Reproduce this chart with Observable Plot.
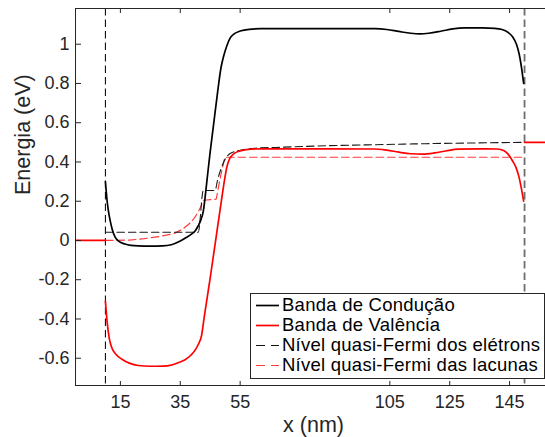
<!DOCTYPE html>
<html>
<head>
<meta charset="utf-8">
<script src="https://cdn.jsdelivr.net/npm/d3@7"></script>
<script src="https://cdn.jsdelivr.net/npm/@observablehq/plot@0.6"></script>
<style>
  body { margin: 0; background: #fff; }
  #wrap { position: relative; width: 545px; height: 437px; overflow: hidden; font-family: "Liberation Sans", Arial, sans-serif; }
  #legend { position: absolute; left: 250px; top: 293px; width: 293px; height: 80px; padding: 1px 0 3px 0; border: 1px solid #262626; background: #fff; }
  .row { display: flex; align-items: center; height: 20px; }
  .row svg { flex: none; }
  .row span { font-size: 18.5px; letter-spacing: 0.25px; color: #000; white-space: nowrap; }
</style>
</head>
<body>
<div id="wrap"></div>
<script>
// ---- data ----
const xDomain = [0, 157];
const yDomain = [-0.739, 1.182];
const xTicks = [15, 35, 55, 105, 125, 145];
const yTicks = [-0.6, -0.4, -0.2, 0, 0.2, 0.4, 0.6, 0.8, 1];
const yTickLabels = ["-0.6", "-0.4", "-0.2", "0", "0.2", "0.4", "0.6", "0.8", "1"];
const xLabel = "x (nm)";
const yLabel = "Energia (eV)";
const seriesNames = ["Banda de Condução", "Banda de Valência", "Nível quasi-Fermi dos elétrons", "Nível quasi-Fermi das lacunas"];

// contacts (x positions of device edges)
const contactX = [10, 150];
// valence band level in the contacts
const leftContactX = [0, 10];
const leftContactE = [0, 0];
const rightContactX = [150, 160];
const rightContactE = [0.5, 0.5];

// conduction band
const condX = [10, 10.5, 11, 11.6, 12.3, 13.2, 14.5, 16.5, 18.5, 21, 25, 29, 32, 35, 37, 38.5, 40, 41, 42, 42.7, 43.8, 44.9, 46.2, 47.5, 48.6, 49.5, 50.5, 51.6, 53, 55, 58, 62, 100, 104, 108, 112, 115, 118, 122, 126, 130, 136, 140, 142.5, 144.5, 146, 147.3, 148.2, 149, 149.7];
const condE = [0.30, 0.21, 0.15, 0.10, 0.055, 0.018, -0.005, -0.018, -0.025, -0.028, -0.029, -0.028, -0.022, -0.003, 0.015, 0.03, 0.05, 0.075, 0.11, 0.15, 0.29, 0.44, 0.60, 0.76, 0.88, 0.94, 0.99, 1.03, 1.053, 1.067, 1.076, 1.079, 1.079, 1.075, 1.065, 1.056, 1.053, 1.056, 1.066, 1.078, 1.083, 1.083, 1.081, 1.075, 1.06, 1.038, 1.0, 0.95, 0.88, 0.80];

// valence band
const valX = [10, 10.6, 11.3, 12.1, 13.5, 15.5, 18, 21, 25, 29, 32, 34.5, 36.6, 38.5, 39.9, 41, 42.1, 43, 44, 45, 46, 47, 48, 49, 49.8, 50.5, 51.3, 52.2, 53.2, 55, 57.1, 62, 100, 104, 108, 112, 116, 120, 124, 128, 134, 141, 143, 144.5, 146, 147.2, 148.2, 149, 149.7];
const valE = [-0.31, -0.42, -0.50, -0.545, -0.58, -0.605, -0.625, -0.637, -0.641, -0.640, -0.635, -0.622, -0.608, -0.585, -0.56, -0.53, -0.485, -0.39, -0.29, -0.19, -0.085, 0.02, 0.125, 0.23, 0.31, 0.37, 0.41, 0.432, 0.445, 0.456, 0.463, 0.467, 0.466, 0.460, 0.450, 0.442, 0.440, 0.446, 0.457, 0.465, 0.467, 0.466, 0.458, 0.44, 0.405, 0.37, 0.32, 0.26, 0.20];

// electron quasi-Fermi level
const elecX = [10, 41, 42.7, 46.6, 47.5, 49.5, 51, 53, 56, 60, 67, 80, 100, 120, 150];
const elecE = [0.042, 0.042, 0.255, 0.255, 0.31, 0.40, 0.435, 0.452, 0.463, 0.47, 0.474, 0.481, 0.488, 0.494, 0.50];

// hole quasi-Fermi level
const holeX = [10, 18, 23, 28, 33, 36, 38, 39.5, 40.8, 41.8, 42.7, 47, 48.5, 49.9, 150];
const holeE = [0, 0.002, 0.009, 0.02, 0.036, 0.06, 0.085, 0.11, 0.14, 0.17, 0.205, 0.21, 0.33, 0.424, 0.424];

// ---- build ----
const pts = (xs, es) => xs.map((x, i) => ({x, E: es[i]}));
const axisColor = "#262626";
const black = "#000";
const red = "#ff0000";
const redDash = "#ff3b3b";
const dash = "7.5,4";

const plot = Plot.plot({
  width: 545,
  height: 437,
  marginLeft: 75,
  marginRight: 0,
  marginTop: 8,
  marginBottom: 52,
  x: {domain: xDomain, axis: null},
  y: {domain: yDomain, axis: null},
  style: {fontFamily: '"Liberation Sans", Arial, sans-serif', background: "#fff", overflow: "visible"},
  marks: [
    // contact boundaries (electron quasi-Fermi jumps)
    Plot.ruleX([contactX[0]], {stroke: "#111", strokeWidth: 1.1, strokeDasharray: dash}),
    Plot.ruleX([contactX[1]], {stroke: "#6e6e6e", strokeWidth: 1.8, strokeDasharray: dash}),
    // curves
    Plot.line(pts(holeX, holeE), {x: "x", y: "E", stroke: redDash, strokeWidth: 1.2, strokeDasharray: dash, clip: true}),
    Plot.line(pts(elecX, elecE), {x: "x", y: "E", stroke: "#1a1a1a", strokeWidth: 1.1, strokeDasharray: dash, curve: "monotone-x", clip: true}),
    Plot.line(pts(condX, condE), {x: "x", y: "E", stroke: black, strokeWidth: 1.7, curve: "monotone-x", clip: true}),
    Plot.line(pts(valX, valE), {x: "x", y: "E", stroke: red, strokeWidth: 1.7, curve: "monotone-x", clip: true}),
    Plot.line(pts(leftContactX, leftContactE), {x: "x", y: "E", stroke: red, strokeWidth: 1.7, clip: true}),
    Plot.line(pts(rightContactX, rightContactE), {x: "x", y: "E", stroke: red, strokeWidth: 1.7, clip: true}),
    // box lines
    Plot.ruleX([xDomain[0]], {stroke: axisColor, strokeWidth: 1}),
    Plot.ruleY([yDomain[0], yDomain[1]], {stroke: axisColor, strokeWidth: 1}),
    // inward ticks
    Plot.axisX({ticks: xTicks, anchor: "top", frameAnchor: "bottom", tickSize: 5, tickFormat: () => "", label: null, stroke: axisColor}),
    Plot.axisX({ticks: xTicks, anchor: "bottom", frameAnchor: "top", tickSize: 5, tickFormat: () => "", label: null, stroke: axisColor}),
    Plot.axisY({ticks: yTicks, anchor: "right", frameAnchor: "left", tickSize: 5, tickFormat: () => "", label: null, stroke: axisColor}),
    // tick labels
    Plot.axisX({ticks: xTicks, anchor: "bottom", tickSize: 0, tickPadding: 10, tickFormat: d => String(d), label: null, fontSize: 18, fill: axisColor}),
    Plot.axisY({ticks: yTicks, anchor: "left", tickSize: 0, tickPadding: 6, tickFormat: d => yTickLabels[yTicks.indexOf(d)], label: null, fontSize: 18, fill: axisColor}),
    // axis labels
    Plot.text([xLabel], {text: d => d, frameAnchor: "bottom", dy: 46, dx: 3, lineAnchor: "bottom", fontSize: 21.5, fill: axisColor}),
    Plot.text([yLabel], {text: d => d, frameAnchor: "left", dx: -46, dy: -2, rotate: -90, lineAnchor: "bottom", fontSize: 21.5, fill: axisColor})
  ]
});

const wrap = document.getElementById("wrap");
wrap.appendChild(plot);

// legend
const legendStyles = [
  {stroke: black, width: 1.7, dash: null},
  {stroke: red, width: 1.7, dash: null},
  {stroke: "#111", width: 1.1, dash: "9,6"},
  {stroke: redDash, width: 1.2, dash: "9,6"}
];
const legend = document.createElement("div");
legend.id = "legend";
seriesNames.forEach((name, i) => {
  const row = document.createElement("div");
  row.className = "row";
  const s = legendStyles[i];
  row.innerHTML = `<svg width="31" height="20"><line x1="5" x2="28" y1="10.5" y2="10.5" stroke="${s.stroke}" stroke-width="${s.width}" ${s.dash ? `stroke-dasharray="${s.dash}"` : ""}/></svg>`;
  const span = document.createElement("span");
  span.textContent = name;
  row.appendChild(span);
  legend.appendChild(row);
});
wrap.appendChild(legend);
</script>
</body>
</html>
